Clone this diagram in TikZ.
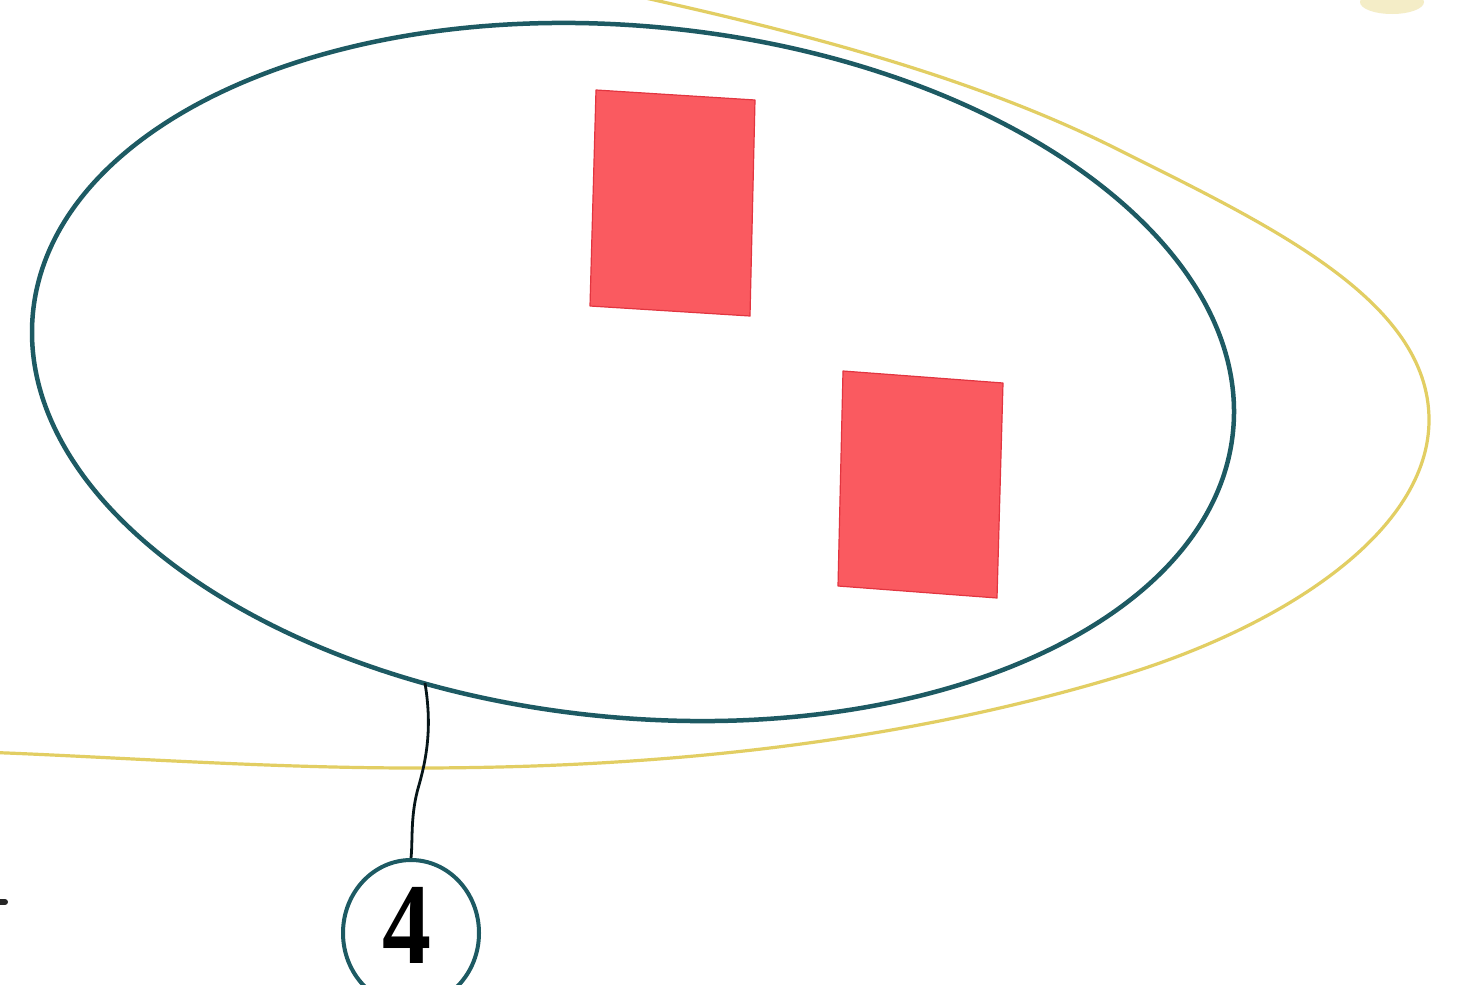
\documentclass[tikz,border=0pt]{standalone}
\usepackage{fontspec}
\newfontfamily\numfont{Liberation Serif}
\usetikzlibrary{shapes.geometric}
\definecolor{tealc}{HTML}{1D5A63}
\definecolor{ochre}{HTML}{E2CE63}
\definecolor{redfill}{HTML}{FA5A60}
\definecolor{redline}{HTML}{E23540}
\begin{document}
\begin{tikzpicture}[x=1pt,y=-1pt,
  orbit/.style={draw=ochre,line width=3.2pt},
  cellline/.style={draw=tealc,line width=4.5pt},
  block/.style={fill=redfill,draw=redline,line width=1.2pt,line join=round},
  tagring/.style={ellipse,draw=tealc,line width=4pt,minimum width=136pt,minimum height=146pt,inner sep=0pt},
  numtext/.style={inner sep=0pt,font=\numfont\bfseries\fontsize{98}{98}\selectfont},
  lead/.style={draw=black!75!tealc,line width=2.8pt}]
\useasboundingbox (0,0) rectangle (1478,985);
\clip (0,0) rectangle (1478,985);
\fill[white] (0,0) rectangle (1478,985);
% faint yellow spot, top right
\fill[ochre!45,opacity=.8] (1392,2) ellipse [x radius=32pt, y radius=12pt];
% outer yellow orbit
\draw[orbit] (600,-12) .. controls (770,25) and (960,70) .. (1119,150)
  .. controls (1269,225) and (1429,300) .. (1429,420)
  .. controls (1429,530) and (1287,626) .. (1117,677)
  .. controls (867,752) and (615,768) .. (415,768)
  .. controls (260,768) and (100,756) .. (-20,752);
% teal ellipse
\draw[cellline, rotate around={-5.67:(633,372)}] (633,372) ellipse [x radius=603pt, y radius=345.6pt];
% red blocks
\filldraw[block] (596,90) -- (755,100) -- (750,316) -- (590,306) -- cycle;
\filldraw[block] (843,371) -- (1003,383) -- (997,598) -- (838,586) -- cycle;
% label
\coordinate (att) at (425,683);
\node[tagring] (lbl) at (411,933) {};
\node[numtext] (num) at (407,925) {\scalebox{1}[1.18]{4}};
\draw[lead] (att) .. controls (431,720) and (429,750) .. (419,785)
  .. controls (410,815) and (413,840) .. (lbl.north);
% cut-off mark at left edge
\draw[line width=6pt,line cap=round,black!85] (-5,902) -- (5,902);
\end{tikzpicture}
\end{document}
